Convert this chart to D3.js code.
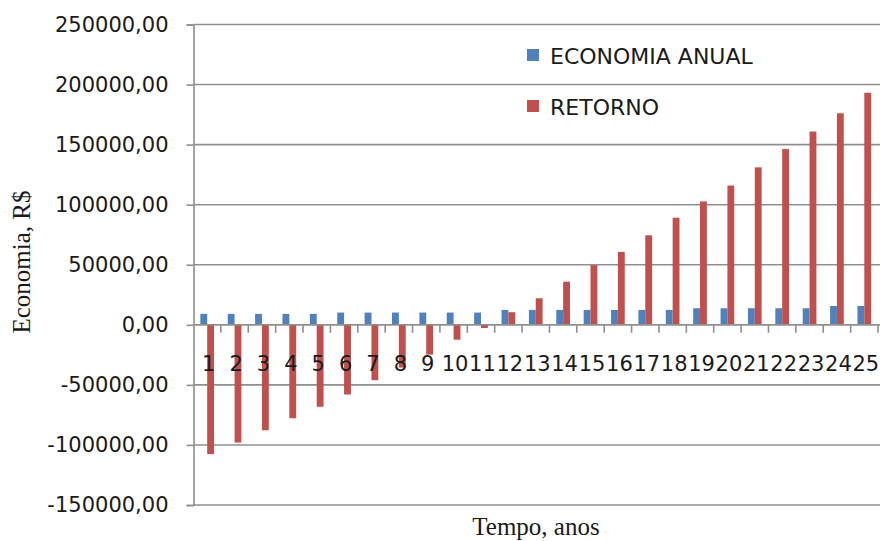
<!DOCTYPE html>
<html>
<head>
<meta charset="utf-8">
<script src="https://cdn.jsdelivr.net/npm/d3@7/dist/d3.min.js"></script>
<style>
  html, body { margin: 0; padding: 0; background: #fff; }
  svg { display: block; }
</style>
</head>
<body>
<svg id="chart" width="883" height="541"></svg>
<script>
// ---- data ----
const years = ["1","2","3","4","5","6","7","8","9","10","11","12","13","14","15","16","17","18","19","20","21","22","23","24","25"];
const economiaAnual = [9100, 9100, 9100, 9100, 9100, 10200, 10200, 10200, 10200, 10200, 10200, 12400, 12400, 12400, 12400, 12400, 12400, 12400, 13800, 13800, 13800, 13800, 13800, 15700, 15700];
const retorno = [-107600, -98000, -87800, -77800, -68200, -58000, -46100, -35600, -24800, -12400, -2700, 10500, 22100, 35900, 49700, 60700, 74500, 89200, 102700, 115900, 131100, 146300, 160900, 176100, 193200];
const yTicks = [250000, 200000, 150000, 100000, 50000, 0, -50000, -100000, -150000];
const seriesNames = ["ECONOMIA ANUAL", "RETORNO"];
const seriesColors = ["#4F81BD", "#C0504D"];
const yTitle = "Economia, R$";
const xTitle = "Tempo, anos";

// ---- layout ----
const svg = d3.select("#chart");
const plotL = 193.5, plotR = 878, plotT = 24.5, plotB = 505;
const gridRight = 880;
const labelFont = "'DejaVu Sans', sans-serif";
const titleFont = "'Liberation Serif', 'Times New Roman', serif";

const y = d3.scaleLinear().domain([-150000, 250000]).range([plotB, plotT]);
const x = d3.scaleBand().domain(years).range([plotL, plotR]).paddingInner(0.5).paddingOuter(0.25);
const xs = d3.scaleBand().domain([0, 1]).range([0, x.bandwidth()]);
const step = x.step();

const fmt = v => v.toFixed(2).replace(".", ",");

// gridlines
svg.append("g").selectAll("line").data(yTicks).join("line")
  .attr("x1", plotL).attr("x2", gridRight)
  .attr("y1", d => y(d)).attr("y2", d => y(d))
  .attr("stroke", "#8f8f8f").attr("stroke-width", 1.6);

// y axis
const yAxis = d3.axisLeft(y).tickValues(yTicks).tickFormat(fmt).tickSize(7).tickPadding(18);
const gy = svg.append("g").attr("transform", `translate(${plotL},0)`).call(yAxis);
gy.select(".domain").attr("stroke", "#8f8f8f").attr("stroke-width", 1.6);
gy.selectAll(".tick line").attr("stroke", "#8f8f8f").attr("stroke-width", 1.6);
gy.selectAll(".tick text").attr("font-family", labelFont).attr("font-size", "21px").attr("fill", "#1a1a1a");

// bars
const series = [economiaAnual, retorno];
const gBars = svg.append("g");
series.forEach((vals, si) => {
  gBars.append("g").selectAll("rect").data(vals).join("rect")
    .attr("x", (d, i) => x(years[i]) + xs(si))
    .attr("width", xs.bandwidth())
    .attr("y", d => y(Math.max(0, d)))
    .attr("height", d => Math.abs(y(d) - y(0)))
    .attr("fill", seriesColors[si]);
});

// x axis at zero with ticks between categories
const gx = svg.append("g");
gx.append("line").attr("x1", plotL).attr("x2", gridRight).attr("y1", y(0)).attr("y2", y(0))
  .attr("stroke", "#8f8f8f").attr("stroke-width", 1.6);
gx.selectAll("line.tk").data(years).join("line").attr("class", "tk")
  .attr("x1", d => x(d) - x.paddingOuter() * step + step)
  .attr("x2", d => x(d) - x.paddingOuter() * step + step)
  .attr("y1", y(0)).attr("y2", y(0) + 8)
  .attr("stroke", "#8f8f8f").attr("stroke-width", 1.6);
gx.selectAll("text").data(years).join("text")
  .attr("x", d => x(d) + x.bandwidth() / 2 + 1.5)
  .attr("y", y(0) + 46)
  .attr("text-anchor", "middle")
  .attr("font-family", labelFont).attr("font-size", "21px").attr("fill", "#1a1a1a")
  .text(d => d);

// legend
const lg = svg.append("g");
const legY = [49, 100];
seriesNames.forEach((name, i) => {
  lg.append("rect").attr("x", 527).attr("y", legY[i]).attr("width", 12).attr("height", 12).attr("fill", seriesColors[i]);
  lg.append("text").attr("x", 550).attr("y", legY[i] + 14.5)
    .attr("font-family", labelFont).attr("font-size", "22px").attr("fill", "#1a1a1a").text(name);
});

// titles
svg.append("text").attr("transform", "translate(30,262) rotate(-90)")
  .attr("text-anchor", "middle").attr("font-family", titleFont).attr("font-size", "25px").attr("fill", "#1a1a1a")
  .text(yTitle);
svg.append("text").attr("x", 536).attr("y", 535)
  .attr("text-anchor", "middle").attr("font-family", titleFont).attr("font-size", "25px").attr("fill", "#1a1a1a")
  .text(xTitle);
</script>
</body>
</html>
